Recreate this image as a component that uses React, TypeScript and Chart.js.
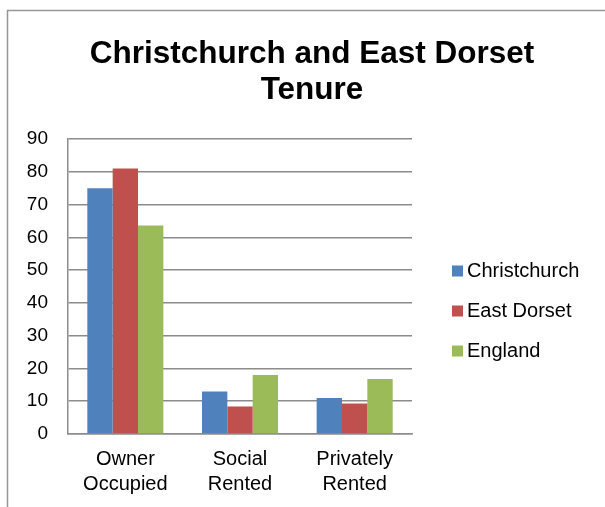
import React, { useEffect, useRef } from "react";
import { Chart, registerables } from "chart.js";

Chart.register(...registerables);

const titleLines = ["Christchurch and East Dorset", "Tenure"];
const categories = [["Owner", "Occupied"], ["Social", "Rented"], ["Privately", "Rented"]];
const seriesNames = ["Christchurch", "East Dorset", "England"];
const christchurch = [75, 13, 11];
const eastDorset = [81, 8.4, 9.3];
const england = [63.6, 18, 16.8];
const yMin = 0;
const yMax = 90;
const yStep = 10;
const seriesColors = ["#4F81BD", "#C0504D", "#9BBB59"];

const FONT = "'Liberation Sans', Arial, Helvetica, sans-serif";
const GRID = "#8c8c8c";

const framePlugin = {
  id: "frame",
  beforeDraw(chart: any) {
    const ctx = chart.ctx;
    ctx.save();
    ctx.fillStyle = "#ffffff";
    ctx.fillRect(0, 0, chart.width, chart.height);
    ctx.strokeStyle = "#969696";
    ctx.lineWidth = 1.5;
    ctx.strokeRect(7.5, 10.5, 900, 900);
    ctx.restore();
  },
};

// Legend drawn beside the plot, using the datasets' own labels and colours
const sideLegendPlugin = {
  id: "sideLegend",
  afterDraw(chart: any) {
    const ctx = chart.ctx;
    const area = chart.chartArea;
    const boxX = area.right + 40;
    const box = 11;
    const gap = 40;
    const firstY = area.top + 132;
    ctx.save();
    ctx.font = `20px ${FONT}`;
    ctx.textBaseline = "middle";
    ctx.textAlign = "left";
    chart.data.datasets.forEach((ds: any, i: number) => {
      const cy = firstY + i * gap;
      ctx.fillStyle = ds.backgroundColor;
      ctx.fillRect(boxX, cy - box / 2, box, box);
      ctx.fillStyle = "#000000";
      ctx.fillText(ds.label, boxX + box + 4, cy);
    });
    ctx.restore();
  },
};

export default function App() {
  const ref = useRef<HTMLCanvasElement | null>(null);

  useEffect(() => {
    if (!ref.current) return;
    Chart.defaults.font.family = FONT;
    Chart.defaults.color = "#000000";
    const seriesData = [christchurch, eastDorset, england];
    const chart = new Chart(ref.current, {
      type: "bar",
      data: {
        labels: categories,
        datasets: seriesNames.map((name, i) => ({
          label: name,
          data: seriesData[i],
          backgroundColor: seriesColors[i],
          borderWidth: 0,
          categoryPercentage: 0.663,
          barPercentage: 1,
          yAxisID: "y",
        })),
      },
      options: {
        responsive: false,
        animation: false,
        devicePixelRatio: 1,
        layout: { padding: { left: 10, top: 0, right: -9, bottom: 0 } },
        plugins: {
          tooltip: { enabled: false },
          legend: { display: false },
          title: {
            display: true,
            text: titleLines,
            color: "#000000",
            font: { family: FONT, size: 31.5, weight: "bold", lineHeight: 36 / 31.5 },
            padding: { top: 36, bottom: 31 },
          },
        },
        scales: {
          x: {
            grid: { display: false, drawTicks: false },
            border: { display: true, color: GRID, width: 1.5 },
            ticks: {
              padding: 13,
              color: "#000000",
              font: { family: FONT, size: 20, lineHeight: 1.25 },
              maxRotation: 0,
              autoSkip: false,
            },
            afterFit: (s: any) => {
              s.height = 73;
            },
          },
          y: {
            position: "left",
            min: yMin,
            max: yMax,
            grid: { color: GRID, lineWidth: 1.5, drawTicks: false },
            border: { display: true, color: GRID, width: 1.5 },
            ticks: {
              stepSize: yStep,
              padding: 20,
              color: "#000000",
              font: { family: FONT, size: 19 },
            },
            afterFit: (s: any) => {
              s.width = 58;
            },
          },
          y2: {
            position: "right",
            display: true,
            grid: { display: false, drawTicks: false },
            border: { display: false },
            ticks: { display: false },
            afterFit: (s: any) => {
              s.width = 202;
            },
          },
        },
      },
      plugins: [framePlugin, sideLegendPlugin],
    });
    return () => chart.destroy();
  }, []);

  return (
    <div style={{ position: "fixed", left: 0, top: 0, width: 605, height: 507, background: "#fff" }}>
      <canvas ref={ref} width={605} height={507} style={{ display: "block", width: 605, height: 507 }} />
    </div>
  );
}
